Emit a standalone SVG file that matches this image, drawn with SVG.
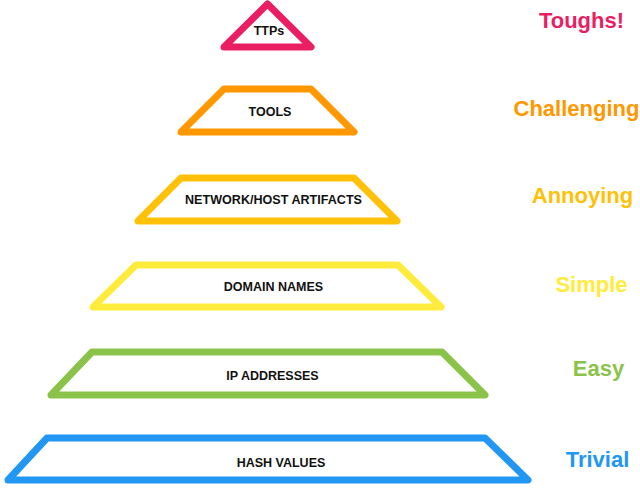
<svg xmlns="http://www.w3.org/2000/svg" width="640" height="488" viewBox="0 0 640 488">
<style>
.lvl{fill:#fff;stroke-width:7;stroke-linejoin:round;stroke-linecap:round}
.lbl{font-family:"Liberation Sans",Arial,sans-serif;font-weight:bold;font-size:12.5px;fill:#111;text-anchor:middle}
.side{font-family:"Liberation Sans",Arial,sans-serif;font-weight:bold;font-size:22px;text-anchor:middle}
</style>
<rect width="640" height="488" fill="#fff"/>
<g id="ttps">
<polygon class="lvl" stroke="#E91E63" points="267.5,4 311,47 224,47"/>
<text class="lbl" x="269" y="35" font-size="11.5">TTPs</text>
</g>
<g id="tools">
<polygon class="lvl" stroke="#FF9800" points="224,89 311,89 354,132 181,132"/>
<text class="lbl" x="270" y="116">TOOLS</text>
</g>
<g id="network">
<polygon class="lvl" stroke="#FFC107" points="181,178 354,178 397,221 138,221"/>
<text class="lbl" x="273.5" y="204" textLength="177" lengthAdjust="spacingAndGlyphs">NETWORK/HOST ARTIFACTS</text>
</g>
<g id="domain">
<polygon class="lvl" stroke="#FFEB3B" points="136,265 398,265 441,307 93,307"/>
<text class="lbl" x="273.5" y="291">DOMAIN NAMES</text>
</g>
<g id="ip">
<polygon class="lvl" stroke="#8BC34A" points="92,352 442,352 485,395 51,395"/>
<text class="lbl" x="272.5" y="380">IP ADDRESSES</text>
</g>
<g id="hash">
<polygon class="lvl" stroke="#2196F3" points="47,438 485,438 528,480 8,480"/>
<text class="lbl" x="281" y="467">HASH VALUES</text>
</g>
<g id="labels">
<text class="side" x="581.5" y="28" fill="#E91E63">Toughs!</text>
<text class="side" x="576.5" y="116" fill="#FF9800">Challenging</text>
<text class="side" x="582.5" y="203" fill="#FFC107">Annoying</text>
<text class="side" x="591.5" y="292" fill="#FFEB3B">Simple</text>
<text class="side" x="598.5" y="376" fill="#8BC34A">Easy</text>
<text class="side" x="597.5" y="467" fill="#2196F3">Trivial</text>
</g>
<g id="connectors"/>
</svg>
